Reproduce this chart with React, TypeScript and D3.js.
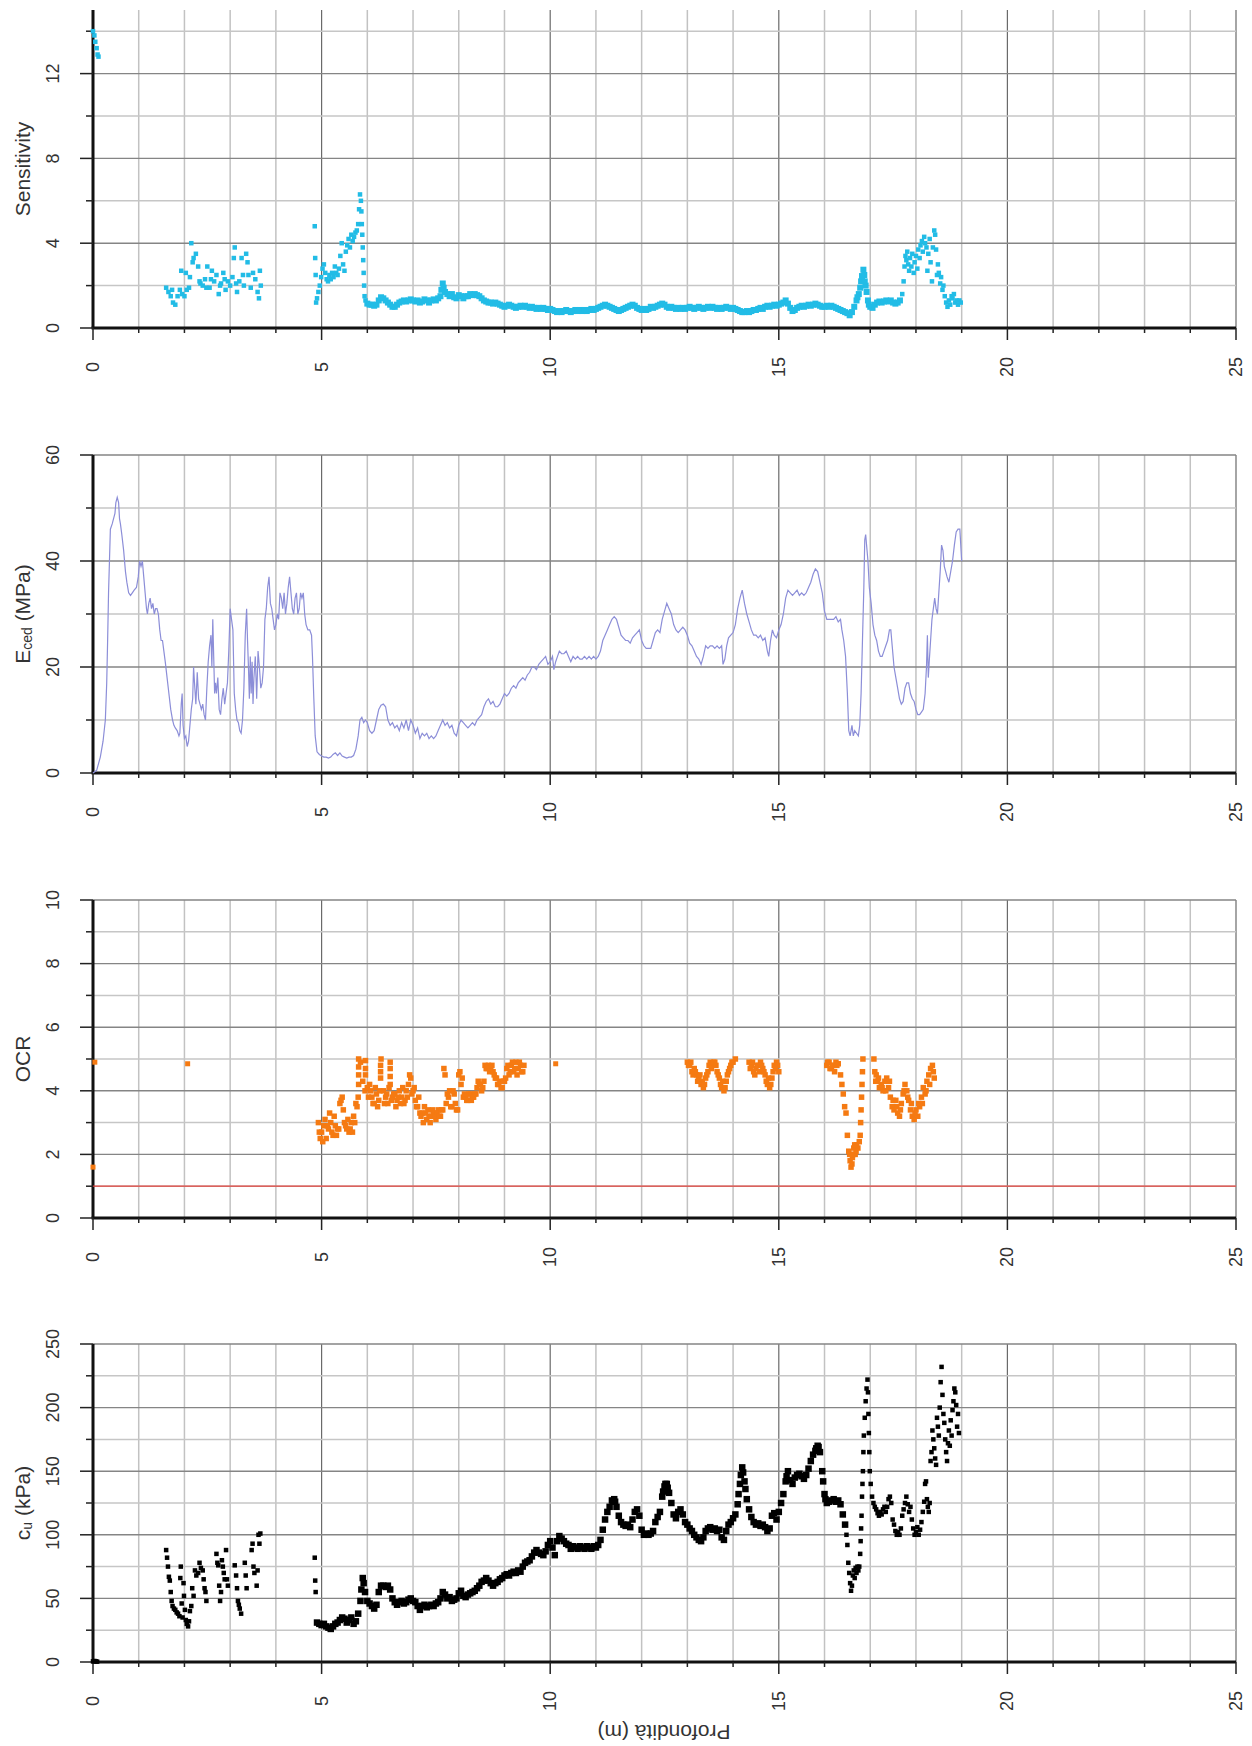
import React from 'react';
import * as d3 from 'd3';

const WIDTH = 1252;
const HEIGHT = 1746;
const LEFT = 93;
const RIGHT = 1236;
const PANEL_TOPS = [10, 455, 900, 1344];
const PANEL_H = 318;
const FONT = '"Liberation Sans", Arial, Helvetica, sans-serif';
const STEP = 0.05; // sampling step of the dense CPT traces (m)

type Pt = [number, number];
const fromStep = (start: number, values: number[]): Pt[] => values.map((v, i) => [start + i * STEP, v]);

// ---------- Sensitivity ----------
const sensSurface: Pt[] = [[0, 14.0], [0.03, 13.8], [0.05, 13.5], [0.08, 13.2], [0.1, 12.9], [0.12, 12.8]];
const sensUpper: Pt[] = [
  [1.6, 1.9], [1.65, 1.7], [1.7, 1.5], [1.73, 1.8], [1.75, 1.2], [1.8, 1.1], [1.85, 1.5], [1.9, 1.8], [1.93, 2.7], [1.95, 1.6],
  [2.0, 1.5], [2.03, 2.6], [2.05, 1.8], [2.1, 1.9], [2.12, 2.4], [2.15, 4.0], [2.18, 3.1], [2.2, 3.3], [2.25, 3.5], [2.3, 2.9],
  [2.33, 2.2], [2.35, 2.1], [2.4, 2.0], [2.45, 2.3], [2.48, 1.9], [2.5, 2.9], [2.55, 1.9], [2.58, 2.3], [2.6, 2.7], [2.65, 2.2],
  [2.7, 2.5], [2.75, 1.6], [2.78, 2.0], [2.8, 2.1], [2.85, 2.6], [2.88, 2.3], [2.9, 1.8], [2.95, 2.2], [3.0, 2.0], [3.05, 2.4],
  [3.08, 3.3], [3.1, 3.8], [3.13, 2.1], [3.15, 1.7], [3.2, 2.2], [3.25, 3.3], [3.28, 2.5], [3.3, 2.0], [3.35, 3.5], [3.38, 3.1],
  [3.4, 2.5], [3.45, 1.9], [3.5, 2.6], [3.55, 2.3], [3.6, 1.7], [3.63, 1.4], [3.65, 2.7], [3.67, 2.0]
];
const sensMid: Pt[] = [
  [4.85, 4.8], [4.86, 3.3], [4.87, 2.5], [4.88, 1.2], [4.9, 1.4], [4.93, 1.7], [4.96, 2.0], [4.99, 2.4], [5.02, 2.8], [5.05, 3.0],
  [5.08, 2.6], [5.11, 2.3], [5.14, 2.2], [5.17, 2.5], [5.2, 2.3], [5.23, 2.6], [5.26, 2.4], [5.29, 2.9], [5.32, 2.6], [5.35, 2.5],
  [5.38, 2.8], [5.41, 3.4], [5.44, 4.0], [5.47, 3.0], [5.5, 2.7], [5.53, 3.6], [5.56, 3.9], [5.59, 4.2], [5.62, 3.8], [5.65, 4.4],
  [5.68, 4.1], [5.71, 4.3], [5.74, 4.5], [5.77, 4.6], [5.8, 4.9], [5.82, 5.6], [5.84, 6.3], [5.86, 6.0], [5.87, 5.5], [5.88, 4.9],
  [5.89, 4.4], [5.9, 3.8], [5.91, 3.2], [5.92, 2.6], [5.93, 2.0], [5.94, 1.5], [5.96, 1.3]
];
// continuous trace from 6.00 m to 17.65 m
const sensBand = [
  1.15, 1.1, 1.1, 1.05, 1.1, 1.3, 1.45, 1.4, 1.3, 1.2, // 6.00
  1.1, 1.0, 1.0, 1.1, 1.2, 1.25, 1.3, 1.25, 1.3, 1.35, // 6.50
  1.3, 1.25, 1.3, 1.2, 1.25, 1.35, 1.3, 1.2, 1.3, 1.35, // 7.00
  1.3, 1.4, 1.5, 2.1, 1.7, 1.6, 1.5, 1.6, 1.45, 1.4, // 7.50
  1.55, 1.5, 1.4, 1.5, 1.5, 1.6, 1.55, 1.6, 1.55, 1.5, // 8.00
  1.4, 1.3, 1.25, 1.2, 1.2, 1.15, 1.2, 1.15, 1.1, 1.05, // 8.50
  1.0, 1.05, 1.1, 1.05, 1.0, 0.95, 1.0, 1.05, 1.0, 1.05, // 9.00
  1.0, 0.95, 1.0, 0.95, 0.9, 0.95, 0.9, 0.95, 0.9, 0.85, // 9.50
  0.9, 0.85, 0.8, 0.75, 0.8, 0.75, 0.8, 0.85, 0.8, 0.75, // 10.00
  0.8, 0.85, 0.8, 0.85, 0.8, 0.85, 0.8, 0.85, 0.9, 0.85, // 10.50
  0.9, 0.95, 1.0, 1.05, 1.1, 1.05, 1.0, 0.95, 0.9, 0.85, // 11.00
  0.8, 0.85, 0.9, 0.95, 1.0, 1.05, 1.1, 1.05, 0.95, 0.9, // 11.50
  0.85, 0.9, 0.85, 0.9, 1.0, 0.95, 1.0, 1.05, 1.1, 1.15, // 12.00
  1.1, 1.0, 0.95, 1.0, 0.95, 0.9, 0.95, 0.9, 0.95, 0.9, // 12.50
  0.95, 1.0, 0.95, 0.9, 0.95, 1.0, 0.95, 0.9, 0.95, 1.0, // 13.00
  0.95, 1.0, 0.95, 0.9, 0.95, 0.9, 0.95, 1.0, 0.95, 0.9, // 13.50
  0.95, 0.9, 0.85, 0.8, 0.75, 0.75, 0.8, 0.75, 0.8, 0.85, // 14.00
  0.85, 0.9, 0.95, 0.9, 1.0, 1.05, 1.0, 1.05, 1.1, 1.05, // 14.50
  1.1, 1.15, 1.2, 1.3, 1.15, 0.95, 0.8, 0.85, 0.95, 1.0, // 15.00
  1.05, 1.0, 1.05, 1.1, 1.05, 1.1, 1.15, 1.1, 1.05, 1.0, // 15.50
  1.0, 1.05, 1.0, 1.05, 1.0, 0.95, 0.9, 0.85, 0.8, 0.75, // 16.00
  0.7, 0.6, 0.75, 1.0, 1.3, 1.6, 2.2, 2.75, 2.0, 1.3, // 16.50
  1.0, 0.95, 1.1, 1.2, 1.25, 1.2, 1.25, 1.3, 1.25, 1.3, // 17.00
  1.2, 1.15, 1.2, 1.3 // 17.50
];
const sensPeaks: Pt[] = [
  [7.62, 1.8], [7.67, 1.9], [16.72, 1.45], [16.78, 1.9], [16.82, 2.45], [16.87, 2.5], [16.88, 2.2], [16.92, 1.7], [16.97, 1.1]
];
const sensLower: Pt[] = [
  [17.7, 1.6], [17.73, 2.2], [17.75, 2.9], [17.77, 3.4], [17.79, 3.2], [17.81, 3.6], [17.83, 3.0], [17.85, 2.7], [17.87, 3.3], [17.9, 2.9],
  [17.92, 3.5], [17.95, 2.6], [17.97, 3.1], [18.0, 3.4], [18.03, 2.8], [18.05, 3.7], [18.08, 3.3], [18.1, 3.9], [18.13, 4.1], [18.15, 3.6],
  [18.18, 4.3], [18.2, 4.0], [18.23, 3.8], [18.25, 2.7], [18.27, 3.5], [18.3, 4.2], [18.32, 3.1], [18.35, 2.2], [18.37, 3.8], [18.4, 4.6],
  [18.42, 4.4], [18.44, 3.7], [18.46, 2.5], [18.48, 3.0], [18.5, 2.6], [18.53, 2.1], [18.55, 2.4], [18.58, 1.8], [18.6, 2.0], [18.63, 1.5],
  [18.66, 1.2], [18.69, 1.0], [18.72, 1.3], [18.75, 1.1], [18.78, 1.5], [18.8, 1.4], [18.83, 1.6], [18.86, 1.2], [18.89, 1.3], [18.92, 1.1],
  [18.95, 1.3], [18.98, 1.2]
];

// ---------- E_ced (line) ----------
const eced: Pt[] = [
  [0, 0], [0.08, 0.5], [0.16, 3], [0.22, 6], [0.27, 10], [0.3, 17], [0.32, 25], [0.34, 34], [0.36, 40], [0.38, 46],
  [0.42, 47], [0.45, 48], [0.48, 49], [0.5, 51], [0.53, 52], [0.56, 51], [0.58, 48], [0.6, 47], [0.63, 45], [0.67, 42],
  [0.71, 38], [0.74, 36], [0.78, 34], [0.82, 33.5], [0.86, 34], [0.9, 34.5], [0.95, 35], [0.99, 37], [1.02, 40], [1.05, 39],
  [1.08, 40], [1.11, 37], [1.14, 34], [1.17, 31], [1.19, 30], [1.22, 32], [1.25, 33], [1.28, 31], [1.31, 32], [1.34, 30],
  [1.37, 31], [1.4, 31], [1.43, 30], [1.46, 27], [1.49, 25], [1.52, 25], [1.55, 23], [1.58, 21], [1.62, 18], [1.66, 15],
  [1.7, 12], [1.74, 10], [1.77, 9], [1.8, 8.5], [1.84, 8], [1.88, 7], [1.9, 7.5], [1.93, 13], [1.95, 15], [1.97, 9],
  [2.0, 6.5], [2.03, 7], [2.06, 5], [2.09, 6], [2.12, 9], [2.15, 12], [2.18, 14], [2.2, 20], [2.22, 17], [2.25, 13],
  [2.28, 19], [2.31, 14], [2.34, 13], [2.37, 12], [2.4, 13], [2.43, 11], [2.46, 10], [2.49, 16], [2.52, 21], [2.55, 24],
  [2.58, 26], [2.6, 20], [2.62, 29], [2.64, 22], [2.66, 15], [2.68, 17], [2.7, 15], [2.73, 18], [2.76, 12], [2.79, 11],
  [2.82, 14], [2.85, 16], [2.88, 13], [2.91, 15], [2.94, 17], [2.97, 23], [3.0, 31], [3.03, 29], [3.06, 27], [3.09, 15],
  [3.12, 12], [3.15, 10], [3.18, 9.5], [3.21, 8], [3.24, 7.5], [3.27, 10], [3.3, 16], [3.33, 26], [3.36, 31], [3.38, 25],
  [3.4, 20], [3.42, 14], [3.44, 22], [3.46, 15], [3.48, 21], [3.5, 13], [3.52, 18], [3.55, 22], [3.58, 14], [3.61, 23],
  [3.64, 20], [3.67, 16], [3.7, 17], [3.73, 20], [3.76, 29], [3.79, 31], [3.82, 35], [3.85, 37], [3.88, 32], [3.91, 31],
  [3.94, 29], [3.97, 27], [4.0, 28], [4.03, 30], [4.06, 29], [4.09, 34], [4.12, 33], [4.15, 31], [4.18, 34], [4.21, 30],
  [4.24, 32], [4.27, 35], [4.3, 37], [4.33, 34], [4.36, 31], [4.39, 30], [4.42, 33], [4.45, 34], [4.48, 30], [4.51, 31],
  [4.54, 34], [4.57, 33], [4.6, 34], [4.63, 30], [4.66, 28], [4.7, 27], [4.74, 27], [4.78, 26], [4.8, 22], [4.83, 14],
  [4.86, 7], [4.9, 4], [4.95, 3.5], [5.0, 3.2], [5.05, 3], [5.1, 3], [5.15, 2.8], [5.2, 3], [5.25, 3.5], [5.3, 3.8],
  [5.35, 3.3], [5.4, 3.8], [5.45, 3.2], [5.5, 3], [5.55, 2.8], [5.6, 3], [5.65, 3], [5.7, 3.3], [5.75, 4.5], [5.8, 7],
  [5.84, 10], [5.88, 10.5], [5.92, 9.5], [5.96, 10], [6.0, 9.5], [6.05, 8], [6.1, 7.5], [6.15, 8], [6.2, 10], [6.25, 12],
  [6.3, 12.8], [6.35, 13], [6.4, 12.5], [6.45, 10], [6.5, 9], [6.55, 9.5], [6.6, 8.5], [6.65, 9], [6.7, 8], [6.75, 9.5],
  [6.8, 8.5], [6.85, 10], [6.9, 8], [6.95, 10], [7.0, 9], [7.05, 7.5], [7.1, 8.5], [7.15, 6.5], [7.2, 7.5], [7.25, 7],
  [7.3, 7.5], [7.35, 6.5], [7.4, 7], [7.45, 6.5], [7.5, 7], [7.55, 8], [7.6, 9], [7.65, 10], [7.7, 9], [7.75, 9.5],
  [7.8, 8.5], [7.85, 9], [7.9, 7.5], [7.95, 7], [8.0, 9], [8.05, 10], [8.1, 9.5], [8.15, 9], [8.2, 8.5], [8.25, 9],
  [8.3, 9.5], [8.35, 9], [8.4, 10], [8.45, 10.5], [8.5, 11], [8.55, 12.5], [8.6, 13.5], [8.65, 14], [8.7, 13], [8.75, 13.5],
  [8.8, 12.5], [8.85, 12.5], [8.9, 13], [8.95, 14], [9.0, 15], [9.05, 14.5], [9.1, 15], [9.15, 16], [9.2, 16.5], [9.25, 16],
  [9.3, 17], [9.35, 17.5], [9.4, 18], [9.45, 17.5], [9.5, 18.5], [9.55, 19], [9.6, 20], [9.65, 20], [9.7, 19.5], [9.75, 20.5],
  [9.8, 21], [9.85, 21.5], [9.9, 22], [9.95, 20.5], [10.0, 21], [10.05, 22], [10.08, 19.5], [10.12, 21], [10.16, 22], [10.2, 23],
  [10.25, 22.5], [10.3, 22.5], [10.35, 23], [10.4, 22], [10.45, 21], [10.5, 22], [10.55, 21.5], [10.6, 22], [10.65, 21.5], [10.7, 21.5],
  [10.75, 22], [10.8, 21.5], [10.85, 22], [10.9, 21.5], [10.95, 22], [11.0, 21.5], [11.05, 22], [11.1, 23], [11.15, 25], [11.2, 26],
  [11.25, 27], [11.3, 28], [11.35, 29], [11.4, 29.5], [11.45, 29], [11.5, 27.5], [11.55, 26], [11.6, 25.5], [11.65, 25], [11.7, 25],
  [11.75, 24.5], [11.8, 25.5], [11.85, 26], [11.9, 26.5], [11.95, 27], [12.0, 25], [12.05, 24], [12.1, 23.5], [12.15, 23.5], [12.2, 23.5],
  [12.25, 25], [12.3, 26.5], [12.35, 27], [12.4, 26.5], [12.45, 29], [12.5, 30.5], [12.55, 32], [12.6, 31], [12.65, 30], [12.7, 28],
  [12.75, 27], [12.8, 26.5], [12.85, 27], [12.9, 27.5], [12.95, 27], [13.0, 26], [13.05, 24.5], [13.1, 24], [13.15, 23], [13.2, 22],
  [13.25, 21.5], [13.3, 20.5], [13.35, 22], [13.4, 24], [13.45, 23.5], [13.5, 24], [13.55, 24], [13.6, 23.5], [13.65, 24], [13.7, 23.5],
  [13.75, 24], [13.78, 20.5], [13.82, 21.5], [13.86, 24], [13.9, 25.5], [13.95, 26], [14.0, 26.5], [14.05, 28], [14.1, 31], [14.15, 33],
  [14.2, 34.5], [14.25, 32], [14.3, 30], [14.35, 28.5], [14.4, 27], [14.45, 26], [14.5, 26], [14.55, 25.5], [14.6, 26], [14.65, 25],
  [14.7, 25.5], [14.75, 23], [14.78, 22], [14.82, 25], [14.86, 27], [14.9, 26], [14.95, 25.5], [15.0, 27], [15.05, 28], [15.1, 30],
  [15.15, 33], [15.2, 34.5], [15.25, 34], [15.3, 33.5], [15.35, 34], [15.4, 34.5], [15.45, 33.5], [15.5, 34], [15.55, 33.5], [15.6, 34],
  [15.65, 35], [15.7, 36], [15.75, 37.5], [15.8, 38.5], [15.85, 38], [15.9, 36], [15.95, 34], [16.0, 30.5], [16.05, 29], [16.1, 29],
  [16.15, 29], [16.2, 29], [16.25, 29.5], [16.3, 28.5], [16.35, 29], [16.38, 27], [16.42, 25], [16.46, 22], [16.5, 15], [16.53, 8],
  [16.56, 7], [16.6, 9], [16.63, 7], [16.66, 8], [16.7, 7.5], [16.74, 7], [16.77, 9], [16.8, 15], [16.83, 25], [16.86, 35],
  [16.88, 44], [16.9, 45], [16.92, 43], [16.95, 40], [16.98, 35], [17.02, 32], [17.06, 28], [17.1, 26], [17.14, 25], [17.18, 23],
  [17.22, 22], [17.26, 22], [17.3, 23], [17.34, 24], [17.38, 25], [17.42, 27], [17.45, 27], [17.48, 24], [17.52, 20], [17.56, 18],
  [17.6, 16], [17.64, 14], [17.68, 13], [17.72, 13.5], [17.76, 16], [17.8, 17], [17.84, 17], [17.88, 15], [17.92, 14], [17.96, 13.5],
  [18.0, 12], [18.04, 11], [18.08, 11], [18.12, 11.5], [18.16, 12], [18.2, 15], [18.23, 20], [18.25, 26], [18.27, 18], [18.29, 21],
  [18.32, 25], [18.35, 29], [18.38, 31], [18.41, 33], [18.44, 31], [18.47, 30], [18.5, 34], [18.53, 38], [18.56, 43], [18.59, 42],
  [18.62, 39], [18.65, 38], [18.68, 37], [18.72, 36], [18.76, 38], [18.8, 40], [18.84, 43], [18.88, 45.5], [18.92, 46], [18.96, 46],
  [19.0, 40]
];

// ---------- OCR ----------
const ocrIsolated: Pt[] = [[0, 1.6], [0.04, 4.9], [2.07, 4.85], [10.12, 4.85]];
const ocrEdges: Pt[] = [
  [4.93, 3.0], [4.95, 2.7], [4.97, 2.5], [5.81, 4.2], [5.81, 4.5], [5.81, 4.75], [5.81, 5.0],
  [5.96, 4.5], [5.96, 4.7], [5.96, 4.95], [6.29, 4.4], [6.29, 4.6], [6.29, 4.8], [6.5, 4.2], [6.5, 4.45], [6.5, 4.7]
];
const ocrBandA = [
  2.7, 2.9, 2.5, 2.8, 3.0, 2.6, 2.9, 2.8, 3.6, 3.8, // 5.00
  3.0, 2.8, 2.7, 3.0, 3.2, 3.6, 3.8, 4.9, 4.3, 4.0, // 5.50
  4.1, 4.2, 3.8, 3.6, 3.9, 3.7, 5.0, 4.0, 3.8, 3.6, // 6.00
  4.9, 3.8, 3.9, 3.7, 4.0, 3.8, 3.6, 4.0, 4.2, 4.4, // 6.50
  4.0, 3.7, 3.5, 3.3, 3.3, 3.5, 3.1, 3.2, 3.2, 3.3, // 7.00
  3.1, 3.4, 3.2, 3.4, 4.5, 3.9, 4.0, 3.5, 3.9, 3.4, // 7.50
  4.5, 4.2, 3.8, 3.8, 3.7, 3.9, 3.8, 3.9, 4.1, 4.2, // 8.00
  4.0, 4.3, 4.7, 4.8, 4.7, 4.6, 4.4, 4.2, 4.3, 4.1, // 8.50
  4.3, 4.7, 4.5, 4.8, 4.6, 4.9, 4.7, 4.8, 4.6 // 9.00
];
// second reading of the scattered cloud, between the samples above
const ocrScatterA: Pt[] = [
  [5.025, 2.4], [5.075, 3.1], [5.125, 2.9], [5.175, 3.3], [5.225, 2.7], [5.275, 3.2], [5.325, 2.6], [5.375, 2.8], [5.425, 3.7], [5.475, 3.4],
  [5.525, 2.9], [5.575, 3.1], [5.625, 2.8], [5.675, 2.7], [5.725, 3.0], [5.775, 3.5], [6.025, 3.8], [6.075, 4.0], [6.125, 3.6], [6.175, 4.1],
  [6.225, 3.5], [6.275, 4.0], [6.375, 3.6], [6.425, 3.9], [6.475, 4.1], [6.525, 3.7], [6.575, 3.9], [6.625, 3.5], [6.675, 3.8], [6.725, 3.6],
  [6.775, 4.1], [6.825, 3.7], [6.875, 3.8], [6.925, 4.5], [6.975, 3.9], [7.025, 4.1], [7.075, 3.5], [7.125, 3.8], [7.175, 3.2], [7.225, 3.0],
  [7.275, 3.3], [7.325, 3.4], [7.375, 3.0], [7.425, 3.4], [7.475, 3.2], [7.525, 3.3], [7.575, 3.2], [7.625, 3.4], [7.675, 4.7], [7.725, 3.6],
  [7.775, 3.8], [7.825, 3.5], [7.875, 4.0], [7.925, 3.6], [7.975, 3.4], [8.025, 4.6], [8.075, 4.4], [8.125, 3.9], [8.175, 3.7], [8.225, 3.9],
  [8.275, 3.7], [8.325, 3.8], [8.375, 3.9], [8.425, 4.3], [8.475, 4.2], [8.525, 4.1], [8.575, 4.8], [8.625, 4.7], [8.675, 4.6], [8.725, 4.8],
  [8.775, 4.5], [8.825, 4.4], [8.875, 4.2], [8.925, 4.1], [8.975, 4.3], [9.025, 4.4], [9.075, 4.8], [9.125, 4.6], [9.175, 4.9], [9.225, 4.7],
  [9.275, 4.5], [9.325, 4.9], [9.375, 4.6], [9.425, 4.8]
];
const ocrBandB = [
  4.9, 4.8, 4.6, 4.7, 4.5, 4.4, 4.2, 4.1, 4.4, 4.6, // 13.00
  4.9, 4.8, 4.9, 4.6, 4.4, 4.1, 4.0, 4.3, 4.6, 4.8, // 13.50
  4.9, 5.0 // 14.00
];
const ocrBandC = [4.9, 4.8, 4.6, 4.7, 4.8, 4.9, 4.7, 4.5, 4.2, 4.1, 4.4, 4.8, 4.9, 4.6]; // from 14.35
const ocrScatterB: Pt[] = [
  [13.025, 4.8], [13.075, 4.9], [13.125, 4.5], [13.175, 4.6], [13.225, 4.3], [13.275, 4.5], [13.325, 4.3], [13.375, 4.2], [13.425, 4.5], [13.475, 4.8],
  [13.525, 4.7], [13.575, 4.9], [13.625, 4.8], [13.675, 4.5], [13.725, 4.2], [13.775, 4.3], [13.825, 4.1], [13.875, 4.5], [13.925, 4.7], [13.975, 4.9],
  [14.375, 4.7], [14.425, 4.9], [14.475, 4.5], [14.525, 4.8], [14.575, 4.6], [14.625, 4.8], [14.675, 4.6], [14.725, 4.3], [14.775, 4.4], [14.825, 4.2],
  [14.875, 4.6], [14.925, 4.7], [14.975, 4.8]
];
const ocrLower: Pt[] = [
  [16.05, 4.8], [16.1, 4.9], [16.15, 4.7], [16.2, 4.8], [16.25, 4.9], [16.3, 4.85], [16.35, 4.5], [16.38, 4.2], [16.41, 3.9], [16.44, 3.5],
  [16.47, 3.3], [16.5, 2.6], [16.53, 2.1], [16.56, 1.8], [16.58, 1.6], [16.61, 1.9], [16.64, 2.2], [16.67, 2.0], [16.7, 2.3], [16.73, 2.2],
  [16.76, 2.4], [16.78, 2.6], [16.79, 3.0], [16.8, 3.4], [16.81, 3.8], [16.82, 4.2], [16.83, 4.6], [16.84, 5.0], [17.08, 5.0], [17.1, 4.6],
  [17.13, 4.5], [17.16, 4.3], [17.2, 4.1], [17.24, 4.2], [17.28, 4.0], [17.32, 4.3], [17.36, 4.4], [17.4, 4.1], [17.44, 3.8], [17.48, 3.5],
  [17.52, 3.4], [17.56, 3.7], [17.6, 3.3], [17.64, 3.2], [17.68, 3.6], [17.72, 3.9], [17.76, 4.2], [17.8, 4.0], [17.84, 3.7], [17.88, 3.4],
  [17.92, 3.2], [17.96, 3.1], [18.0, 3.4], [18.04, 3.2], [18.08, 3.5], [18.12, 3.8], [18.16, 4.1], [18.2, 3.9], [18.24, 4.3], [18.28, 4.5],
  [18.32, 4.7], [18.36, 4.8], [18.4, 4.4],
  [16.07, 4.9], [16.12, 4.7], [16.17, 4.8], [16.22, 4.6], [16.27, 4.8], [16.55, 2.0], [16.6, 1.7], [16.63, 2.0], [16.66, 2.3], [16.69, 2.1],
  [17.12, 4.3], [17.18, 4.4], [17.26, 4.1], [17.34, 4.0], [17.42, 4.3], [17.5, 3.7], [17.58, 3.5], [17.66, 3.4], [17.74, 4.0], [17.82, 3.8],
  [17.9, 3.6], [17.98, 3.3], [18.06, 3.6], [18.14, 3.6], [18.22, 4.0], [18.3, 4.2], [18.38, 4.6]
];
const OCR_REF = 1;

// ---------- c_u ----------
const cuSurface: Pt[] = [[0, 0.5], [0.03, 0.8], [0.06, 0.5], [0.09, 0.3]];
const cuUpper: Pt[] = [
  [1.6, 88], [1.62, 82], [1.64, 75], [1.66, 67], [1.68, 64], [1.7, 55], [1.72, 48], [1.74, 44], [1.77, 42], [1.8, 41],
  [1.83, 39], [1.86, 38], [1.89, 36], [1.91, 66], [1.92, 75], [1.94, 46], [1.96, 35], [1.98, 62], [1.99, 52], [2.01, 41],
  [2.03, 33], [2.05, 30], [2.08, 28], [2.1, 32], [2.12, 40], [2.15, 44], [2.17, 58], [2.2, 52], [2.23, 72], [2.26, 68],
  [2.3, 70], [2.33, 78], [2.36, 74], [2.4, 72], [2.42, 65], [2.44, 58], [2.46, 55], [2.48, 48], [2.7, 85], [2.72, 78],
  [2.74, 76], [2.76, 60], [2.78, 48], [2.8, 55], [2.82, 80], [2.84, 75], [2.86, 70], [2.88, 65], [2.91, 88], [2.93, 65],
  [2.95, 60], [3.1, 76], [3.13, 68], [3.15, 58], [3.17, 48], [3.19, 45], [3.21, 42], [3.24, 38], [3.32, 78], [3.34, 68],
  [3.36, 58], [3.47, 88], [3.49, 93], [3.51, 75], [3.53, 70], [3.58, 60], [3.6, 72], [3.62, 100], [3.64, 93], [3.66, 101],
  [4.85, 82], [4.86, 64], [4.87, 55]
];
const cuBand = [
  31, 30, 29, 30, 28, 27, 26, 28, 30, 31, 33, 35, // 4.90
  34, 31, 33, 35, 30, 32, 38, 48, 66, 55, // 5.50
  48, 46, 44, 42, 45, 55, 60, 60, 59, 60, // 6.00
  57, 50, 47, 45, 47, 48, 46, 47, 49, 50, // 6.50
  48, 47, 44, 41, 44, 45, 43, 44, 45, 44, // 7.00
  46, 47, 50, 55, 53, 50, 51, 48, 49, 50, // 7.50
  54, 56, 52, 51, 53, 54, 55, 56, 58, 60, // 8.00
  63, 64, 66, 64, 62, 60, 62, 63, 65, 66, // 8.50
  68, 69, 68, 70, 71, 70, 72, 71, 75, 78, // 9.00
  79, 80, 83, 86, 88, 86, 85, 84, 87, 92, // 9.50
  95, 90, 84, 95, 99, 97, 95, 93, 92, 89, // 10.00
  91, 90, 89, 91, 90, 89, 91, 90, 89, 91, // 10.50
  90, 92, 96, 104, 112, 118, 122, 127, 128, 122, // 11.00
  115, 110, 108, 107, 108, 106, 112, 118, 120, 115, // 11.50
  104, 100, 101, 100, 101, 103, 110, 114, 118, 130, // 12.00
  138, 140, 133, 125, 116, 113, 118, 120, 116, 110, // 12.50
  108, 105, 103, 100, 98, 96, 95, 98, 103, 105, // 13.00
  106, 104, 105, 103, 104, 98, 96, 103, 108, 110, // 13.50
  113, 116, 124, 140, 153, 142, 128, 120, 114, 110, // 14.00
  108, 109, 107, 108, 106, 103, 105, 115, 117, 112, // 14.50
  118, 125, 132, 142, 150, 143, 140, 145, 147, 148, // 15.00
  146, 144, 147, 152, 158, 163, 166, 170, 165, 150, // 15.50
  132, 125, 126, 127, 128, 126, 127, 124, 116, 108 // 16.00
];
// peaks of the continuous trace sampled more finely
const cuPeaks: Pt[] = [
  [5.87, 57], [5.92, 62], [11.37, 126], [11.42, 126], [12.47, 134], [12.52, 140], [12.57, 137], [14.12, 132], [14.17, 147], [14.22, 149],
  [14.27, 136], [15.17, 146], [15.82, 168], [15.87, 169], [15.97, 142], [16.02, 128]
];
const cuLower: Pt[] = [
  [16.48, 100], [16.5, 92], [16.52, 78], [16.54, 70], [16.56, 62], [16.58, 56], [16.6, 60], [16.62, 68], [16.64, 72], [16.66, 66],
  [16.68, 74], [16.7, 70], [16.72, 75], [16.74, 72], [16.76, 75], [16.78, 85], [16.79, 95], [16.8, 105], [16.81, 115], [16.82, 130],
  [16.83, 140], [16.84, 150], [16.85, 165], [16.86, 178], [16.88, 192], [16.9, 205], [16.92, 215], [16.94, 222], [16.95, 212], [16.96, 195],
  [16.97, 180], [16.98, 165], [16.99, 150], [17.01, 140], [17.04, 130], [17.07, 125], [17.1, 122], [17.13, 120], [17.16, 117], [17.19, 115],
  [17.22, 118], [17.25, 116], [17.28, 120], [17.31, 122], [17.34, 118], [17.37, 122], [17.4, 128], [17.43, 130], [17.46, 125], [17.49, 112],
  [17.52, 108], [17.55, 103], [17.58, 100], [17.61, 102], [17.64, 100], [17.67, 105], [17.7, 115], [17.73, 120], [17.76, 125], [17.79, 130],
  [17.82, 124], [17.85, 118], [17.88, 122], [17.91, 112], [17.94, 105], [17.97, 100], [18.0, 102], [18.03, 106], [18.06, 100], [18.09, 104],
  [18.12, 110], [18.15, 118], [18.18, 126], [18.2, 140], [18.22, 142], [18.24, 128], [18.26, 122], [18.28, 118], [18.3, 125], [18.32, 158],
  [18.34, 165], [18.36, 182], [18.38, 175], [18.4, 168], [18.42, 160], [18.44, 155], [18.46, 192], [18.48, 185], [18.5, 178], [18.52, 200],
  [18.54, 220], [18.56, 232], [18.58, 210], [18.6, 195], [18.62, 188], [18.64, 175], [18.66, 165], [18.68, 158], [18.7, 172], [18.72, 182],
  [18.74, 170], [18.76, 190], [18.78, 178], [18.8, 198], [18.82, 205], [18.84, 215], [18.86, 212], [18.88, 202], [18.9, 185], [18.92, 195],
  [18.94, 180]
];

type Group = { pts: Pt[]; size: number };

const sensitivityGroups: Group[] = [
  { pts: [...sensSurface, ...sensUpper, ...sensMid, ...sensLower], size: 4.5 },
  { pts: [...fromStep(6.0, sensBand), ...sensPeaks], size: 6 }
];
const ocrGroups: Group[] = [
  { pts: ocrIsolated, size: 5 },
  { pts: [...ocrEdges, ...fromStep(5.0, ocrBandA), ...ocrScatterA, ...fromStep(13.0, ocrBandB), ...fromStep(14.35, ocrBandC), ...ocrScatterB, ...ocrLower], size: 5.5 }
];
const cuGroups: Group[] = [
  { pts: [...cuSurface, ...cuUpper, ...cuLower], size: 4.5 },
  { pts: [...fromStep(4.9, cuBand), ...cuPeaks], size: 6.5 }
];

type Scale = d3.ScaleLinear<number, number>;

const Squares = ({ groups, x, y, color }: { groups: Group[]; x: Scale; y: Scale; color: string }) => (
  <g fill={color}>
    {groups.map((g, gi) =>
      g.pts.map(([d, v], i) => (
        <rect key={gi + '-' + i} x={x(d) - g.size / 2} y={y(v) - g.size / 2} width={g.size} height={g.size} />
      ))
    )}
  </g>
);

type PanelProps = {
  top: number;
  yMax: number;
  labelTicks: number[];
  minorTicks: number[];
  title: React.ReactNode;
  children: (x: Scale, y: Scale) => React.ReactNode;
};

const Panel = ({ top, yMax, labelTicks, minorTicks, title, children }: PanelProps) => {
  const bottom = top + PANEL_H;
  const x = d3.scaleLinear().domain([0, 25]).range([LEFT, RIGHT]);
  const y = d3.scaleLinear().domain([0, yMax]).range([bottom, top]);
  const xTicks = x.ticks(25);

  return (
    <g>
      {/* grid */}
      {xTicks.filter((t) => t > 0).map((t) => (
        <line key={'vx' + t} x1={x(t)} x2={x(t)} y1={top} y2={bottom}
          stroke={t % 5 === 0 ? '#6a6a6a' : '#c2c2c2'} strokeWidth={t % 5 === 0 ? 1.2 : 1.5} />
      ))}
      {minorTicks.map((t) => (
        <line key={'hm' + t} x1={LEFT} x2={RIGHT} y1={y(t)} y2={y(t)} stroke="#c6c6c6" strokeWidth={1.5} />
      ))}
      {labelTicks.filter((t) => t > 0).map((t) => (
        <line key={'hl' + t} x1={LEFT} x2={RIGHT} y1={y(t)} y2={y(t)} stroke="#858585" strokeWidth={1.4} />
      ))}

      {/* axes */}
      <line x1={LEFT} x2={LEFT} y1={top} y2={bottom} stroke="#111" strokeWidth={3} />
      <line x1={LEFT - 1.5} x2={RIGHT} y1={bottom} y2={bottom} stroke="#111" strokeWidth={3} />
      {xTicks.map((t) => (
        <line key={'xt' + t} x1={x(t)} x2={x(t)} y1={bottom} y2={bottom + (t % 5 === 0 ? 12 : 5)} stroke="#222" strokeWidth={1.5} />
      ))}
      {labelTicks.map((t) => (
        <line key={'yt' + t} x1={LEFT - 13} x2={LEFT} y1={y(t)} y2={y(t)} stroke="#222" strokeWidth={1.5} />
      ))}
      {minorTicks.map((t) => (
        <line key={'ym' + t} x1={LEFT - 7} x2={LEFT} y1={y(t)} y2={y(t)} stroke="#222" strokeWidth={1.5} />
      ))}

      {/* tick labels */}
      <g fontFamily={FONT} fontSize={18} fill="#333" textAnchor="middle" dominantBaseline="central">
        {xTicks.filter((t) => t % 5 === 0).map((t) => (
          <text key={'xl' + t} transform={`translate(${x(t)},${bottom + 39}) rotate(-90)`}>{t}</text>
        ))}
        {labelTicks.map((t) => (
          <text key={'yl' + t} transform={`translate(53,${y(t)}) rotate(-90)`}>{t}</text>
        ))}
      </g>
      <text transform={`translate(22,${(top + bottom) / 2}) rotate(-90)`} fontFamily={FONT} fontSize={21}
        fill="#333" textAnchor="middle" dominantBaseline="central">
        {title}
      </text>

      {children(x, y)}
    </g>
  );
};

const App = () => {
  const lineGen = (x: Scale, y: Scale) => d3.line<Pt>().x((d) => x(d[0])).y((d) => y(d[1]));

  return (
    <div style={{ position: 'absolute', left: 0, top: 0 }}>
      <svg width={WIDTH} height={HEIGHT} style={{ display: 'block', background: '#fff' }}>
        <Panel top={PANEL_TOPS[0]} yMax={15} labelTicks={[0, 4, 8, 12]} minorTicks={[2, 6, 10, 14]} title="Sensitivity">
          {(x, y) => <Squares groups={sensitivityGroups} x={x} y={y} color="#22bce6" />}
        </Panel>

        <Panel top={PANEL_TOPS[1]} yMax={60} labelTicks={[0, 20, 40, 60]} minorTicks={[10, 30, 50]}
          title={<>E<tspan fontSize={14} dy={5}>ced</tspan><tspan dy={-5}> (MPa)</tspan></>}>
          {(x, y) => <path d={lineGen(x, y)(eced) ?? ''} fill="none" stroke="#8c8ed8" strokeWidth={1.2} />}
        </Panel>

        <Panel top={PANEL_TOPS[2]} yMax={10} labelTicks={[0, 2, 4, 6, 8, 10]} minorTicks={[1, 3, 5, 7, 9]} title="OCR">
          {(x, y) => (
            <g>
              <line x1={LEFT} x2={RIGHT} y1={y(OCR_REF)} y2={y(OCR_REF)} stroke="#e0403a" strokeWidth={1.2} />
              <Squares groups={ocrGroups} x={x} y={y} color="#f57a12" />
            </g>
          )}
        </Panel>

        <Panel top={PANEL_TOPS[3]} yMax={250} labelTicks={[0, 50, 100, 150, 200, 250]} minorTicks={[25, 75, 125, 175, 225]}
          title={<>c<tspan fontSize={14} dy={5}>u</tspan><tspan dy={-5}> (kPa)</tspan></>}>
          {(x, y) => <Squares groups={cuGroups} x={x} y={y} color="#000" />}
        </Panel>

        <text transform={`translate(664,1732) rotate(180)`} fontFamily={FONT} fontSize={21} fill="#333"
          textAnchor="middle" dominantBaseline="central">
          Profondità (m)
        </text>
      </svg>
    </div>
  );
};

export default App;
